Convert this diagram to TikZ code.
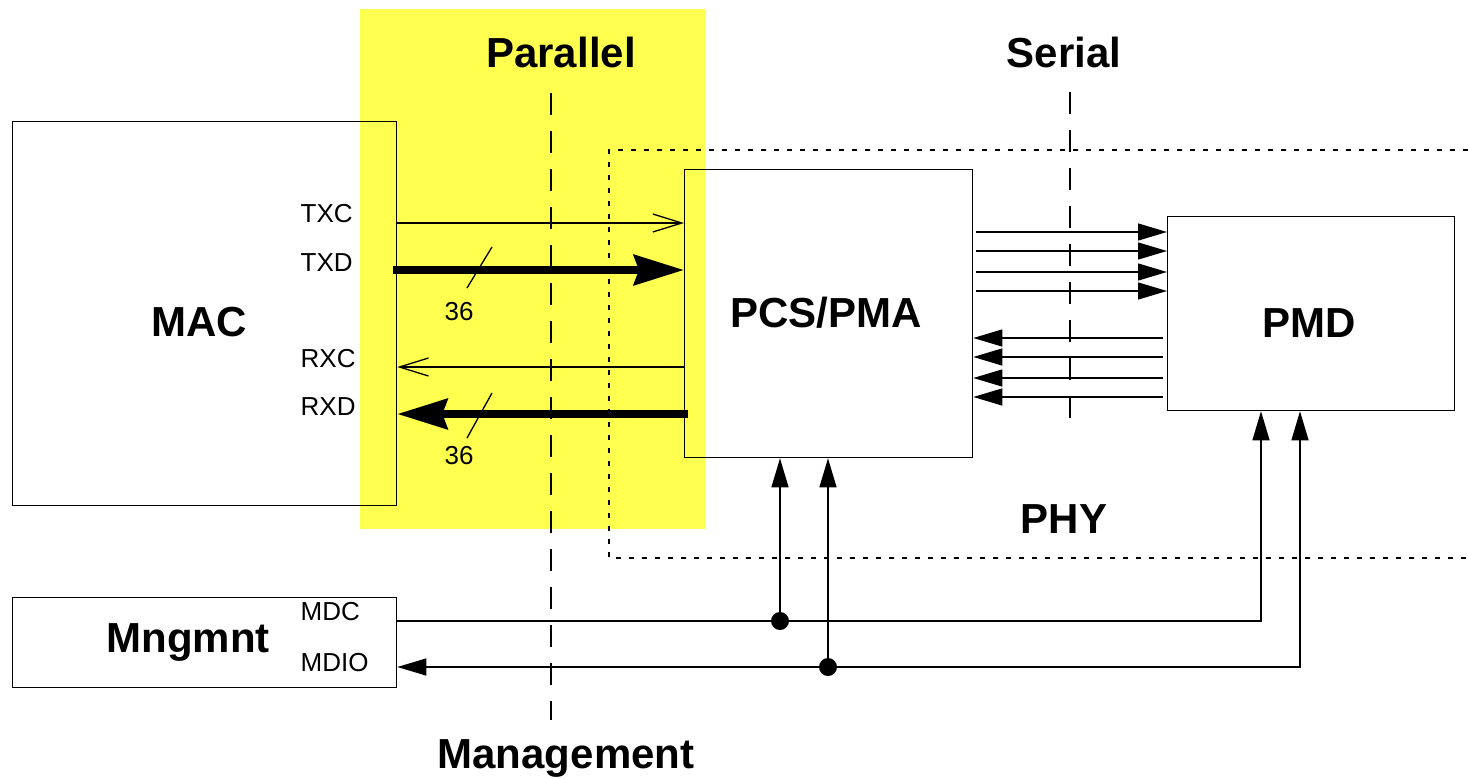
\documentclass[tikz,border=0pt]{standalone}
\usepackage{fontspec}
\setmainfont{Liberation Sans}
\usetikzlibrary{arrows.meta}
\definecolor{hl}{RGB}{255,255,80}
\begin{document}
\begin{tikzpicture}[x=1pt,y=-1pt,line width=1.3pt,
  box/.style={draw,line width=1.3pt,inner sep=0pt,anchor=north west},
  big/.style={font=\fontsize{42}{42}\selectfont\bfseries,inner sep=0pt,anchor=base},
  small/.style={font=\fontsize{26}{26}\selectfont,inner sep=0pt,anchor=base west},
  num/.style={font=\fontsize{26}{26}\selectfont,inner sep=0pt,anchor=base},
  barb/.style={-{Straight Barb[length=29pt,width=18pt,line width=1.3pt]}},
  fat/.style={line width=8pt,-{Stealth[length=50pt,width=30pt,inset=5pt]}},
  tri/.style={-{Triangle[length=29pt,width=17pt]}},
  longdash/.style={dash pattern=on 22pt off 16pt,line width=1.3pt},
  phyline/.style={dash pattern=on 5pt off 8pt,line width=1.3pt},
  dot/.style={circle,fill,inner sep=0pt,minimum size=18pt}]
\useasboundingbox (0,0) rectangle (1468,779);
% highlight band
\node[fill=hl,inner sep=0pt,anchor=north west,minimum width=346pt,minimum height=520pt] (band) at (359,8) {};
% PHY dotted boundary
\draw[phyline] (1468,150) -- (609,150) -- (609,558) -- (1468,558);
% dashed separators
\draw[longdash] (551,93) -- (551,720);
\draw[longdash] (1070,92) -- (1070,432);
% boxes
\node[box,minimum width=384pt,minimum height=384pt] (mac) at (12,121) {};
\node[box,minimum width=288pt,minimum height=288pt] (pcs) at (684,169) {};
\node[box,minimum width=287pt,minimum height=194pt] (pmd) at (1167,216) {};
\node[box,minimum width=384pt,minimum height=90pt] (mng) at (12,597) {};
% titles
\node[big] (tmac) at (199,336) {MAC};
\node[big] (tpcs) at (826,327) {PCS/PMA};
\node[big] (tpmd) at (1309,337) {PMD};
\node[big] (tmng) at (188,652) {Mngmnt};
\node[big] (tpar) at (561,67) {Parallel};
\node[big] (tser) at (1064,67) {Serial};
\node[big] (tman) at (566,768) {Management};
\node[big] (tphy) at (1064,533) {PHY};
% signal labels
\node[small] (ltxc) at (300,222) {TXC};
\node[small] (ltxd) at (300,271) {TXD};
\node[small] (lrxc) at (300,367) {RXC};
\node[small] (lrxd) at (300,415) {RXD};
\node[small] (lmdc) at (300,620) {MDC};
\node[small] (lmdio) at (300,671) {MDIO};
% parallel connectors
\draw[barb] (mac.east |- 0,223) -- (pcs.west |- 0,223);
\draw[fat] ([xshift=-4pt]mac.east |- 0,270) -- (pcs.west |- 0,270);
\draw[barb] (pcs.west |- 0,367) -- (mac.east |- 0,367);
\draw[fat] ([xshift=4pt]pcs.west |- 0,414) -- (mac.east |- 0,414);
\draw (492,247) -- (467,288);
\node[num] (n1) at (459,320) {36};
\draw (492,393) -- (467,438);
\node[num] (n2) at (459,464) {36};
% serial connectors
\foreach \yy in {232,251,272,291}
  \draw[tri] ([xshift=3pt]pcs.east |- 0,\yy) -- (pmd.west |- 0,\yy);
\foreach \yy in {338,357,378,397}
  \draw[tri] ([xshift=-4pt]pmd.west |- 0,\yy) -- (pcs.east |- 0,\yy);
% management
\node[dot] (d1) at (780,621) {};
\node[dot] (d2) at (828,667) {};
\coordinate (c1) at (1261,621);
\coordinate (c2) at (1300,667);
\draw[tri] (mng.east |- d1) -- (c1) -- (c1 |- pmd.south);
\draw[{Triangle[length=29pt,width=17pt]}-{Triangle[length=29pt,width=17pt]}] (mng.east |- d2) -- (c2) -- (c2 |- pmd.south);
\draw[tri] (d1.center) -- (d1 |- pcs.south);
\draw[tri] (d2.center) -- (d2 |- pcs.south);
\end{tikzpicture}
\end{document}
